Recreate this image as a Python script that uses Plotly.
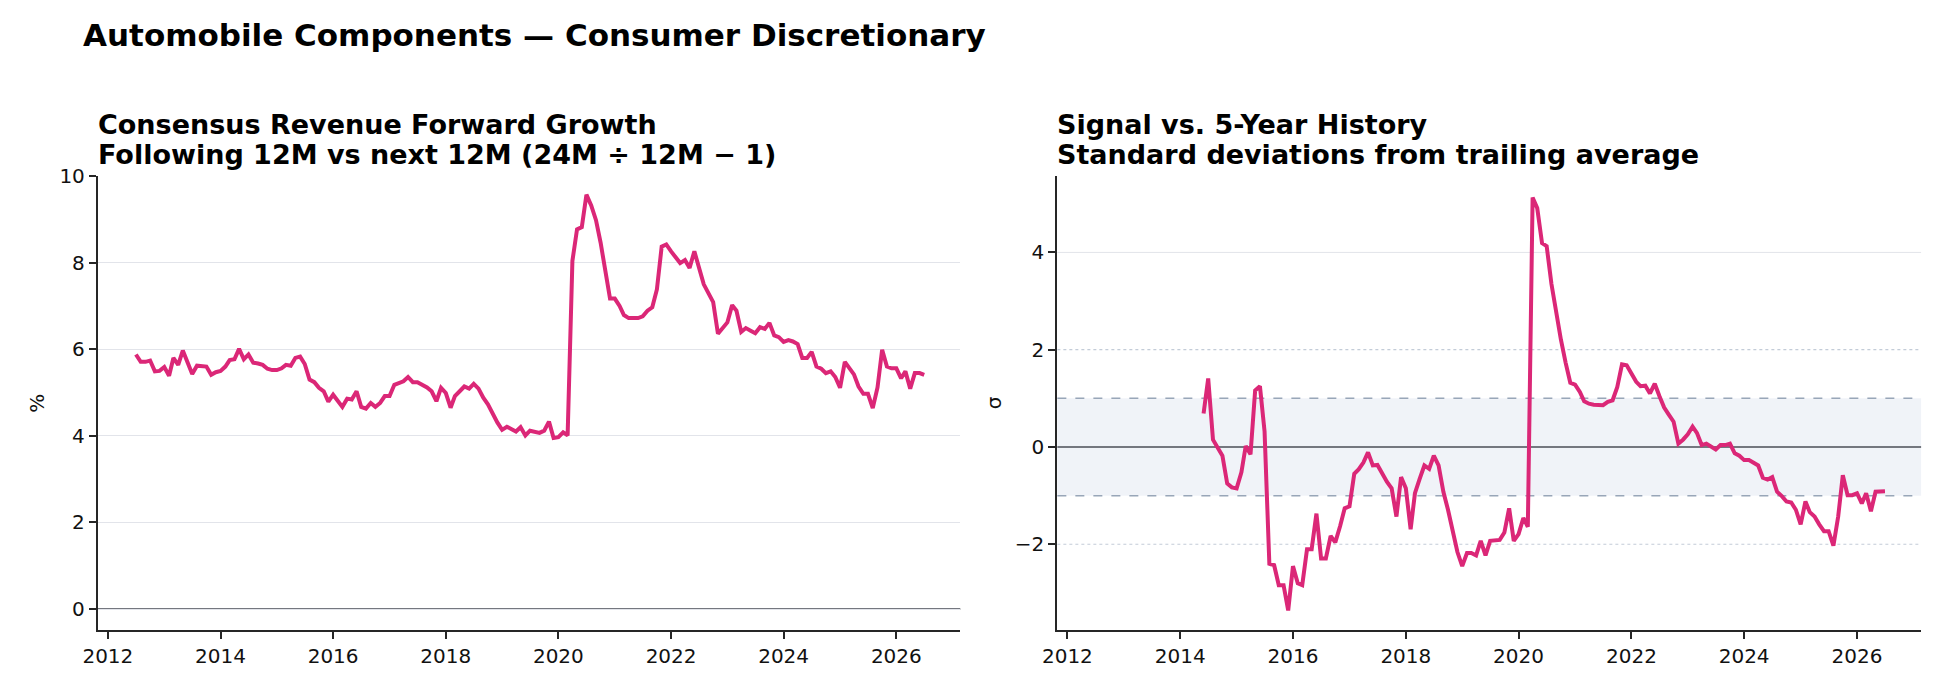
import plotly.graph_objects as go
import pandas as pd

# ---------------- data ----------------
growth = [
    5.88, 5.71, 5.71, 5.74, 5.49, 5.50,
    5.59, 5.39, 5.80, 5.64, 5.97, 5.68, 5.43, 5.62, 5.60, 5.60, 5.41, 5.47,
    5.50, 5.60, 5.75, 5.77, 6.01, 5.77, 5.88, 5.69, 5.67, 5.64, 5.55, 5.52,
    5.52, 5.56, 5.64, 5.62, 5.80, 5.83, 5.66, 5.30, 5.24, 5.11, 5.03, 4.79,
    4.95, 4.79, 4.67, 4.86, 4.84, 5.03, 4.67, 4.63, 4.76, 4.67, 4.76, 4.92,
    4.92, 5.18, 5.22, 5.26, 5.36, 5.24, 5.24, 5.18, 5.12, 5.03, 4.80, 5.11,
    4.99, 4.65, 4.92, 5.03, 5.14, 5.09, 5.20, 5.09, 4.88, 4.73, 4.51, 4.31,
    4.14, 4.21, 4.16, 4.10, 4.20, 4.01, 4.12, 4.10, 4.07, 4.12, 4.33, 3.95,
    3.97, 4.08, 4.01, 8.04, 8.77, 8.82, 9.57, 9.32, 8.98, 8.46, 7.84, 7.17,
    7.17, 7.00, 6.79, 6.72, 6.72, 6.72, 6.76, 6.89, 6.97, 7.38, 8.37, 8.42,
    8.26, 8.13, 7.99, 8.06, 7.88, 8.26, 7.91, 7.50, 7.29, 7.09, 6.36, 6.49,
    6.62, 7.02, 6.89, 6.40, 6.49, 6.43, 6.37, 6.51, 6.47, 6.61, 6.32, 6.28,
    6.17, 6.21, 6.18, 6.12, 5.80, 5.80, 5.94, 5.60, 5.55, 5.45, 5.49, 5.36,
    5.11, 5.71, 5.58, 5.42, 5.14, 4.97, 4.97, 4.64, 5.12, 5.99, 5.60, 5.56,
    5.56, 5.33, 5.49, 5.09, 5.45, 5.45, 5.41,
]

zscore = [
    0.69, 1.41, 0.15, -0.01, -0.18, -0.75, -0.83,
    -0.85, -0.52, 0.02, -0.15, 1.16, 1.25, 0.32, -2.40, -2.43, -2.84, -2.84, -3.36,
    -2.45, -2.80, -2.84, -2.10, -2.10, -1.37, -2.29, -2.29, -1.83, -1.96, -1.63, -1.26,
    -1.22, -0.55, -0.46, -0.32, -0.11, -0.38, -0.37, -0.55, -0.72, -0.85, -1.43, -0.62,
    -0.85, -1.69, -0.95, -0.65, -0.38, -0.45, -0.18, -0.38, -0.92, -1.29, -1.76, -2.16,
    -2.45, -2.18, -2.18, -2.23, -1.93, -2.23, -1.93, -1.93, -1.91, -1.76, -1.26, -1.93,
    -1.79, -1.46, -1.64, 5.13, 4.91, 4.19, 4.13, 3.35, 2.74, 2.21, 1.73, 1.32,
    1.28, 1.13, 0.94, 0.89, 0.87, 0.86, 0.86, 0.93, 0.96, 1.23, 1.70, 1.68,
    1.50, 1.34, 1.25, 1.26, 1.10, 1.30, 1.05, 0.81, 0.66, 0.52, 0.07, 0.15,
    0.26, 0.42, 0.29, 0.04, 0.07, 0.02, -0.05, 0.04, 0.04, 0.07, -0.13, -0.18,
    -0.27, -0.27, -0.32, -0.38, -0.63, -0.67, -0.62, -0.92, -1.01, -1.12, -1.14, -1.29,
    -1.59, -1.12, -1.34, -1.43, -1.59, -1.73, -1.73, -2.03, -1.43, -0.58, -0.99, -0.99,
    -0.95, -1.16, -0.95, -1.32, -0.92, -0.91, -0.91,
]

last_month = "2026-07-01"
left_ticks = [0, 2, 4, 6, 8, 10]
right_ticks = [-2, 0, 2, 4]
year_ticks = [str(y) for y in range(2012, 2027, 2)]

main_title = "Automobile Components \u2014 Consumer Discretionary"
left_title = ["Consensus Revenue Forward Growth",
              "Following 12M vs next 12M (24M \u00f7 12M \u2212 1)"]
right_title = ["Signal vs. 5-Year History",
               "Standard deviations from trailing average"]

# ---------------- figure ----------------
W, H = 1934, 679
PINK = "#DB2777"
SPINE = "#262626"
GRID = "#e2e4ea"
FONT = "DejaVu Sans"

dates_l = pd.date_range(end=last_month, periods=len(growth), freq="MS")
dates_r = pd.date_range(end=last_month, periods=len(zscore), freq="MS")

def px_x(p):
    return p / W

def px_y(p):
    return 1 - p / H

x1 = (px_x(83.5), px_x(952.7))
x2 = (px_x(1050.5), px_x(1921))
yd = (px_y(629), px_y(167))

fig = go.Figure()
fig.add_trace(go.Scatter(x=dates_l, y=growth, mode="lines",
                         line=dict(color=PINK, width=4), xaxis="x", yaxis="y",
                         showlegend=False))
fig.add_trace(go.Scatter(x=dates_r, y=zscore, mode="lines",
                         line=dict(color=PINK, width=4), xaxis="x2", yaxis="y2",
                         showlegend=False))

xrange = ["2011-10-28", "2027-02-20"]
tickvals = [f"{y}-01-01" for y in year_ticks]

common_x = dict(type="date", range=xrange, tickvals=tickvals, ticktext=year_ticks,
                showgrid=False, zeroline=False, showline=True, linecolor=SPINE,
                linewidth=2, ticks="outside", ticklen=7, tickwidth=1.5,
                tickcolor=SPINE, tickfont=dict(size=20, color="#111111", family=FONT))
common_y = dict(showline=True, linecolor=SPINE, linewidth=2, ticks="outside",
                ticklen=7, tickwidth=1.5, tickcolor=SPINE, zeroline=False,
                tickfont=dict(size=20, color="#111111", family=FONT))

fig.update_layout(
    width=W, height=H, margin=dict(l=0, r=0, t=0, b=0),
    paper_bgcolor="white", plot_bgcolor="white",
    font=dict(family=FONT, color="#111111"),
    xaxis=dict(domain=list(x1), anchor="y", **common_x),
    xaxis2=dict(domain=list(x2), anchor="y2", **common_x),
    yaxis=dict(domain=list(yd), anchor="x", range=[-0.48, 10.0], tickvals=left_ticks,
               showgrid=True, gridcolor=GRID, gridwidth=1, **common_y),
    yaxis2=dict(domain=list(yd), anchor="x2", range=[-3.76, 5.57], tickvals=right_ticks,
                showgrid=False, **common_y),
)

shapes = []
shapes.append(dict(type="line", xref="x domain", yref="y", x0=0, x1=1, y0=0, y1=0,
                   line=dict(color="#74777f", width=2), layer="below"))
shapes.append(dict(type="rect", xref="x2 domain", yref="y2", x0=0, x1=1, y0=-1, y1=1,
                   fillcolor="#f0f3f8", line=dict(width=0), layer="below"))
for v in (1, -1):
    shapes.append(dict(type="line", xref="x2 domain", yref="y2", x0=0, x1=1, y0=v, y1=v,
                       line=dict(color="#98a6b8", width=1.5, dash="dash"), layer="below"))
for v in (2, -2):
    shapes.append(dict(type="line", xref="x2 domain", yref="y2", x0=0, x1=1, y0=v, y1=v,
                       line=dict(color="#c3ccd8", width=1.2, dash="dot"), layer="below"))
shapes.append(dict(type="line", xref="x2 domain", yref="y2", x0=0, x1=1, y0=4, y1=4,
                   line=dict(color=GRID, width=1), layer="below"))
shapes.append(dict(type="line", xref="x2 domain", yref="y2", x0=0, x1=1, y0=0, y1=0,
                   line=dict(color="#74777f", width=2), layer="below"))
fig.update_layout(shapes=shapes)

ann = []
ann.append(dict(text=f"<b>{main_title}</b>", x=px_x(67), y=px_y(23), xref="paper", yref="paper",
                xanchor="left", yanchor="middle", showarrow=False,
                font=dict(size=31, color="#000000", family=FONT)))
for (lines, xl) in ((left_title, 83.5), (right_title, 1050.5)):
    for t, yc in zip(lines, (114.5, 145.5)):
        ann.append(dict(text=f"<b>{t}</b>", x=px_x(xl - 2), y=px_y(yc), xref="paper", yref="paper",
                        xanchor="left", yanchor="middle", showarrow=False,
                        font=dict(size=27, color="#000000", family=FONT)))
ann.append(dict(text="%", x=px_x(22), y=px_y(398), xref="paper", yref="paper",
                xanchor="center", yanchor="middle", textangle=-90, showarrow=False,
                font=dict(size=20, color="#111111", family=FONT)))
ann.append(dict(text="\u03c3", x=px_x(987), y=px_y(398), xref="paper", yref="paper",
                xanchor="center", yanchor="middle", textangle=-90, showarrow=False,
                font=dict(size=20, color="#111111", family=FONT)))
fig.update_layout(annotations=ann)

fig.write_html("out.html", post_script="document.body.style.margin='0';")
